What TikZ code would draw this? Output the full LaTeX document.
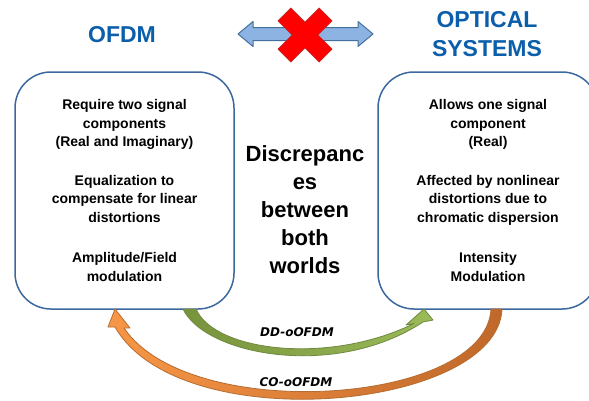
\documentclass[tikz,border=0pt]{standalone}
\usepackage{fontspec}
\setmainfont{Liberation Sans}
\newfontfamily\labelfont{DejaVu Sans}
\usetikzlibrary{positioning}
\definecolor{titleblue}{RGB}{11,94,170}
\definecolor{boxblue}{RGB}{60,104,160}
\definecolor{arrowfill}{RGB}{141,179,226}
\definecolor{arrowline}{RGB}{65,113,156}
\definecolor{crossred}{RGB}{255,0,0}
\definecolor{crossline}{RGB}{205,30,30}
\definecolor{ddlight}{RGB}{155,187,89}
\definecolor{dddark}{RGB}{119,147,60}
\definecolor{ddline}{RGB}{113,137,63}
\definecolor{colight}{RGB}{247,150,70}
\definecolor{codark}{RGB}{192,104,42}
\definecolor{coline}{RGB}{182,109,49}

\begin{document}
\begin{tikzpicture}[x=1pt, y=-1pt,
    world/.style={draw=boxblue, line width=1.5pt, rounded corners=36pt, align=center,
        minimum height=237pt, inner sep=0pt, font=\fontsize{14}{18.5}\selectfont\bfseries},
    title/.style={text=titleblue, font=\fontsize{23}{29}\selectfont\bfseries, align=center, inner sep=0pt},
    scheme/.style={font=\labelfont\fontsize{12}{14}\selectfont\bfseries\itshape, inner sep=0pt}]
    \useasboundingbox (0,0) rectangle (589,400);

    \node[title] (ofdm) at (122,34.5) {OFDM};
    \node[title] (optical) at (487,34.5) {OPTICAL\\SYSTEMS};

    \node[world, minimum width=219pt] (ofdmbox) at (124.5,190.5)
        {Require two signal\\components\\(Real and Imaginary)\\[20pt]
         Equalization to\\compensate for linear\\distortions\\[22pt]
         Amplitude/Field\\modulation};
    \node[world, minimum width=220pt] (opticbox) at (488,190.5)
        {Allows one signal\\component\\(Real)\\[20pt]
         Affected by nonlinear\\distortions due to\\chromatic dispersion\\[22pt]
         Intensity\\Modulation};

    \node[font=\fontsize{22}{28}\selectfont\bfseries, align=center, inner sep=0pt] (gap) at (305,210)
        {Discrepanc\\es\\between\\both\\worlds};

    % double arrow with the cross on top
    \draw[fill=arrowfill, draw=arrowline, line width=1pt, line join=round]
        (238,34) -- (253,21.5) -- (253,27.5) -- (358,27.5) -- (358,21.5) -- (373,34)
        -- (358,46.5) -- (358,40.5) -- (253,40.5) -- (253,46.5) -- cycle;
    \draw[fill=crossred, draw=crossline, line width=0.8pt, shift={(305,35)}, rotate=45]
        (-9,-29) -- (9,-29) -- (9,-9) -- (29,-9) -- (29,9) -- (9,9) -- (9,29)
        -- (-9,29) -- (-9,9) -- (-29,9) -- (-29,-9) -- (-9,-9) -- cycle;

    % DD-oOFDM
    \draw[draw=ddline, line width=0.8pt, left color=dddark, right color=ddlight, line join=round]
        (183,309) .. controls (205,355) and (335,380) .. (423,322)
        -- (433,320) -- (424,309) -- (406,325) -- (414,323.5)
        .. controls (330,365) and (215,352) .. (196,309) -- cycle;
    % CO-oOFDM
    \draw[draw=coline, line width=0.8pt, left color=colight, right color=codark, line join=round]
        (502,309) .. controls (498,410) and (180,440) .. (115,327)
        -- (108,327) -- (115,309) -- (130,328) -- (124,328)
        .. controls (190,425) and (486,405) .. (491,309) -- cycle;

    \node[scheme] (dd) at (297,332) {DD-oOFDM};
    \node[scheme] (co) at (296,382) {CO-oOFDM};
\end{tikzpicture}
\end{document}
